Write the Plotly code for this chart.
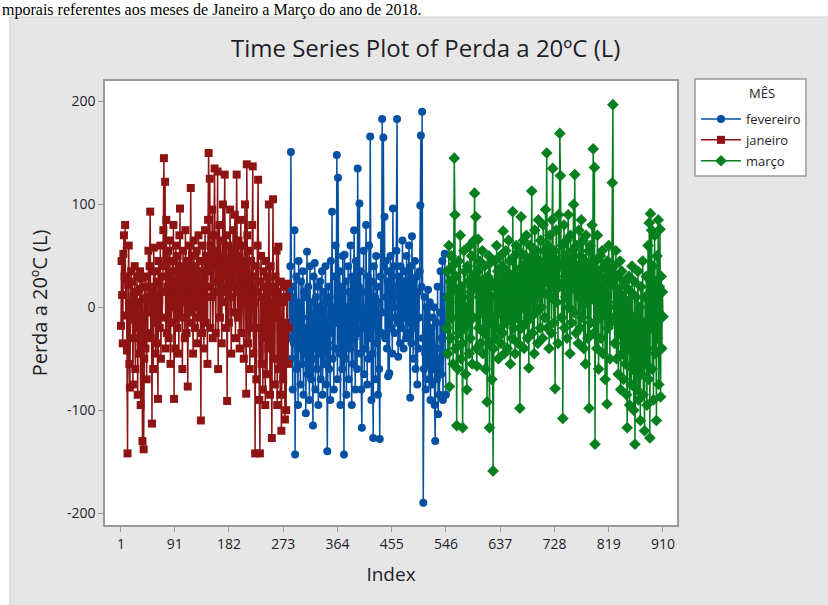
import plotly.graph_objects as go

# Perda a 20ºC (L) por leitura, agrupada por mês (janeiro a março de 2018)
janeiro = [
    -18, 45, 12, -35, 52, 70, 30, 80, -8, 28, -42, -142, 22, 60, -55, -78, 4, 35, -12, 25,
    -75, 10, -30, 40, -60, 15, -20, 30, -85, 5, -45, 18, 35, -95, -10, 28, -130, 8, -138, -50,
    20, -40, 30, -70, 10, -25, 55, -5, 40, 93, -30, 15, -113, 20, -60, 58, -15, 35, -45, 10,
    25, -35, -89, 45, 5, -20, 60, -50, 30, -10, 15, 75, 145, 40, 122, -40, 85, -25, 20, 55,
    -30, 10, 65, -55, 35, -15, 45, 0, 80, -89, 25, -40, 60, 15, -20, 50, 30, -45, 70, 96,
    -10, 40, 20, -60, 55, 5, 35, -30, 75, 10, -25, 45, -77, 30, 60, -15, 20, 116, -5, 50,
    15, -45, 65, 25, -20, 40, 0, 55, -35, 20, 70, -10, 35, 5, -110, 45, -25, 60, 10, -40,
    30, 75, -15, 50, 20, -55, 85, 150, 35, 125, -20, 60, 10, 95, -30, 45, 70, 135, 15, -25,
    55, 25, 132, -60, 40, 80, -10, 65, 20, -35, 50, 100, 5, 45, 129, 30, -20, 70, -91, 15,
    60, -15, 40, 95, 10, -45, 55, 25, 75, -5, 35, 90, -30, 20, 129, 50, -10, 65, 15, -40,
    45, 85, -25, 30, 60, 5, -50, 40, 100, 20, -84, 139, 70, -35, 25, 55, -60, 10, 45, -20,
    80, 137, -45, 30, 5, -142, 40, -70, 15, 60, 124, -20, -90, -142, 25, 50, -55, 10, -80, 35,
    -30, 20, -95, 45, -10, -65, 30, -40, 100, 15, -85, 40, -20, -127, 5, 105, -50, 20, -75, 30,
    -10, 55, -95, 15, 59, -60, 10, -85, 25, -120, -30, 5, -70, 20, -45, -109, -15, -100, 10, 23,
    -55, -20,
]

fevereiro = [
    15, -30, 40, 151, -50, 20, -80, 10, -35, 75, -143, -20, 30, -60, 5, -95, 45, -40, 0, -75,
    25, -55, -10, 35, -85, 15, -45, -20, -103, 10, 54, -65, 20, -30, -90, 40, -15, -70, 5, -50,
    -115, 30, -40, 43, -80, 10, -25, -60, 20, -95, 0, -45, 25, -70, -10, 35, -85, -30, 15, -55,
    -20, 40, -75, 5, -140, -35, 20, -60, 10, -90, 45, -25, 93, -50, 0, -80, 30, -40, 60, -15,
    148, -70, 126, 10, -45, 35, -95, 20, -30, -60, 50, -10, -143, 51, -50, 25, -85, 0, -35, 40,
    -70, 15, -40, 60, -20, -95, 30, -55, 5, 75, -30, -80, 45, 10, -60, 135, -25, 20, 101, -45,
    35, -80, -117, 15, -20, 55, -65, 0, -40, 80, -10, -75, 30, -50, 60, -30, 166, -15, -90, 25,
    -45, -127, 40, -20, 10, -70, 50, -35, 20, -85, 5, -60, -128, 30, 70, -25, 183, -5, 165, 40,
    88, -30, 45, 10, -40, 25, -67, 35, -64, 15, 50, -20, 30, -45, 96, 0, 40, -25, 20, -10,
    55, 183, -15, -48, 30, 10, -35, 40, 0, -20, 65, 15, -40, 25, -10, 35, -30, 50, 5, -25,
    20, 60, -15, -88, 40, -35, 69, 10, -50, 25, -20, 45, -60, 0, 30, -75, 15, -40, -10, 35,
    99, 167, 20, 190, -30, -190, -60, 10, -45, -80, 0, -25, -55, 17, -70, -35, 5, -90, -50, -20,
    -75, -10, -60, 0, -95, -130, -40, -15, -70, 20, -104, -50, -85, -5, 35, -65, -30, 45, -90, -20,
    10, 52, -45, -85,
]

marco = [
    -20, 35, -45, 10, 60, -77, 25, -30, 50, -10, 40, -55, 20, 145, 90, -40, 30, -115, 15, -60,
    45, -25, 5, 70, -50, 20, -35, -117, 10, 55, -20, 35, -65, 0, -80, 40, -15, 25, -45, 60,
    -30, 15, 50, -55, 30, -10, 65, 111, 20, 88, -40, -57, 35, 66, -20, 10, 45, -35, 25, -5,
    55, -45, 15, -25, 40, -60, 20, 5, -92, 30, -35, 50, -117, 43, -15, 25, -70, 10, -159, -40,
    20, 45, -30, 10, 60, -20, 35, -50, 25, -5, 50, -35, 15, 40, -25, 74, 10, -45, 30, 55,
    -15, 35, -40, 20, 65, -10, 45, -55, 15, 30, -30, 93, 5, -20, 50, -45, 25, 60, -10, 35,
    -35, 15, 55, -98, 30, 88, -20, 40, 0, 65, -40, 25, 50, -15, 70, 10, -30, 45, -59, 20,
    60, -10, 35, 113, -25, 50, 15, -45, 75, 20, -5, 55, 30, -35, 85, 10, 45, -20, 65, 0,
    40, -30, 80, 15, 55, -10, 95, 25, 150, -20, 60, 35, -40, 70, 10, 50, -25, 85, 135, 20,
    -15, 55, -79, 30, 75, 5, 45, -35, 90, 20, 169, 128, 40, -10, 60, -108, 25, 80, -20, 50,
    10, 65, -30, 35, 90, 0, 45, -45, 70, 20, -15, 55, 30, 100, -5, 129, 25, -25, 60, 15,
    40, -35, 75, 10, -20, 50, 85, -10, 30, 65, -40, 20, 45, -55, 70, 5, 35, -30, 55, -98,
    25, 60, -15, 40, 80, 10, 154, -25, 136, -133, 45, 5, -40, 70, 20, -60, 35, -10, 50, -30,
    15, 55, -45, 25, -5, 40, -70, 10, 30, -94, 45, -20, 60, 0, -50, 35, -15, 25, 121, 197,
    -10, 40, -35, 20, 55, -50, 5, 30, -65, 15, -25, 45, -80, 0, 35, -45, 10, -70, 25, -30,
    -55, 20, -85, -117, 5, -40, 30, -95, -20, 15, -75, 40, -60, -10, -100, 25, -133, -45, 10, -80,
    -25, 35, -90, -50, 0, -110, 20, -65, -30, 45, -85, -15, -120, 10, -55, 30, -95, -40, 60, -70,
    82, -127, 91, -20, 75, -60, 40, -90, 10, 70, -45, 25, -110, 50, -30, 85, -75, 20, 76, -87,
    30, -40, 15, -9,
]

x_ticks = [1, 91, 182, 273, 364, 455, 546, 637, 728, 819, 910]
y_ticks = [-200, -100, 0, 100, 200]

# Running index across the three months
n_jan, n_fev = len(janeiro), len(fevereiro)
idx_jan = list(range(1, n_jan + 1))
idx_fev = list(range(n_jan + 1, n_jan + n_fev + 1))
idx_mar = list(range(n_jan + n_fev + 1, n_jan + n_fev + len(marco) + 1))

BLUE, RED, GREEN = "#0451A4", "#8E1414", "#067F1E"
FONT = "Open Sans, Noto Sans, sans-serif"
TXT = "#1e1e2a"

fig = go.Figure()
series = [
    ("fevereiro", idx_fev, fevereiro, BLUE, "circle", 8),
    ("janeiro", idx_jan, janeiro, RED, "square", 8),
    ("março", idx_mar, marco, GREEN, "diamond", 9),
]
for name, xs, ys, color, symbol, size in series:
    fig.add_trace(go.Scatter(
        x=xs, y=ys, name=name, legendgroup=name, mode="lines+markers",
        line=dict(color=color, width=1.5),
        marker=dict(color=color, symbol=symbol, size=size, line=dict(width=0)),
    ))

W, H = 828, 605
L, R, T, B = 105, 151, 81, 80
pw, ph = W - L - R, H - T - B


def px(xp):
    return (xp - L) / pw


def py(yp):
    return (H - B - yp) / ph


fig.update_layout(
    width=W, height=H,
    margin=dict(l=L, r=R, t=T, b=B, pad=0),
    paper_bgcolor="#E6E6E6",
    plot_bgcolor="white",
    font=dict(family=FONT, color=TXT, size=14),
    showlegend=True,
    legend=dict(
        x=px(696), y=py(104), xanchor="left", yanchor="top",
        bgcolor="rgba(0,0,0,0)", borderwidth=0,
        font=dict(size=13, family=FONT, color=TXT),
        itemwidth=40, tracegroupgap=1,
    ),
    shapes=[
        # white page strips above and left of the grey chart panel
        dict(type="rect", xref="paper", yref="paper", layer="below",
             x0=px(-5), x1=px(835), y0=py(17), y1=py(-5),
             fillcolor="white", line=dict(width=0)),
        dict(type="rect", xref="paper", yref="paper", layer="below",
             x0=px(-5), x1=px(10), y0=py(610), y1=py(-5),
             fillcolor="white", line=dict(width=0)),
        dict(type="line", xref="paper", yref="paper", layer="below",
             x0=px(10), x1=px(10), y0=py(610), y1=py(17),
             line=dict(color="#cfcfcf", width=1)),
        dict(type="line", xref="paper", yref="paper", layer="below",
             x0=px(10), x1=px(835), y0=py(17), y1=py(17),
             line=dict(color="#cfcfcf", width=1)),
        # legend frame
        dict(type="rect", xref="paper", yref="paper", layer="below",
             x0=px(695), x1=px(806), y0=py(176), y1=py(79),
             fillcolor="white", line=dict(color="#9a9a9a", width=1.5)),
    ],
    annotations=[
        dict(text="Time Series Plot of Perda a 20ºC (L)", xref="paper", yref="paper",
             x=px(425), y=py(48), xanchor="center", yanchor="middle", showarrow=False,
             font=dict(size=24, family=FONT, color=TXT)),
        dict(text="MÊS", xref="paper", yref="paper",
             x=px(762), y=py(93), xanchor="center", yanchor="middle", showarrow=False,
             font=dict(size=13, family=FONT, color=TXT)),
        dict(text="mporais referentes aos meses de Janeiro a Março do ano de 2018.",
             xref="paper", yref="paper", x=px(0), y=py(-1), xanchor="left", yanchor="top",
             showarrow=False, font=dict(size=16, family="Liberation Serif, serif", color="black")),
    ],
)

fig.update_xaxes(
    range=[-25.8, 933.5], tickmode="array", tickvals=x_ticks,
    ticktext=[str(t) for t in x_ticks],
    showline=True, linecolor="#9a9a9a", linewidth=1.5, mirror=True,
    ticks="outside", ticklen=5, tickcolor="#9a9a9a", tickwidth=1,
    showgrid=False, zeroline=False,
    tickfont=dict(size=14),
    title=dict(text="Index", font=dict(size=19), standoff=16),
)
fig.update_yaxes(
    range=[-211.6, 220], tickmode="array", tickvals=y_ticks,
    ticktext=[str(t) for t in y_ticks],
    showline=True, linecolor="#9a9a9a", linewidth=1.5, mirror=True,
    ticks="outside", ticklen=5, tickcolor="#9a9a9a", tickwidth=1,
    showgrid=False, zeroline=False,
    tickfont=dict(size=14),
    title=dict(text="Perda a 20ºC (L)", font=dict(size=20), standoff=14),
)

fig.write_html("out.html")
